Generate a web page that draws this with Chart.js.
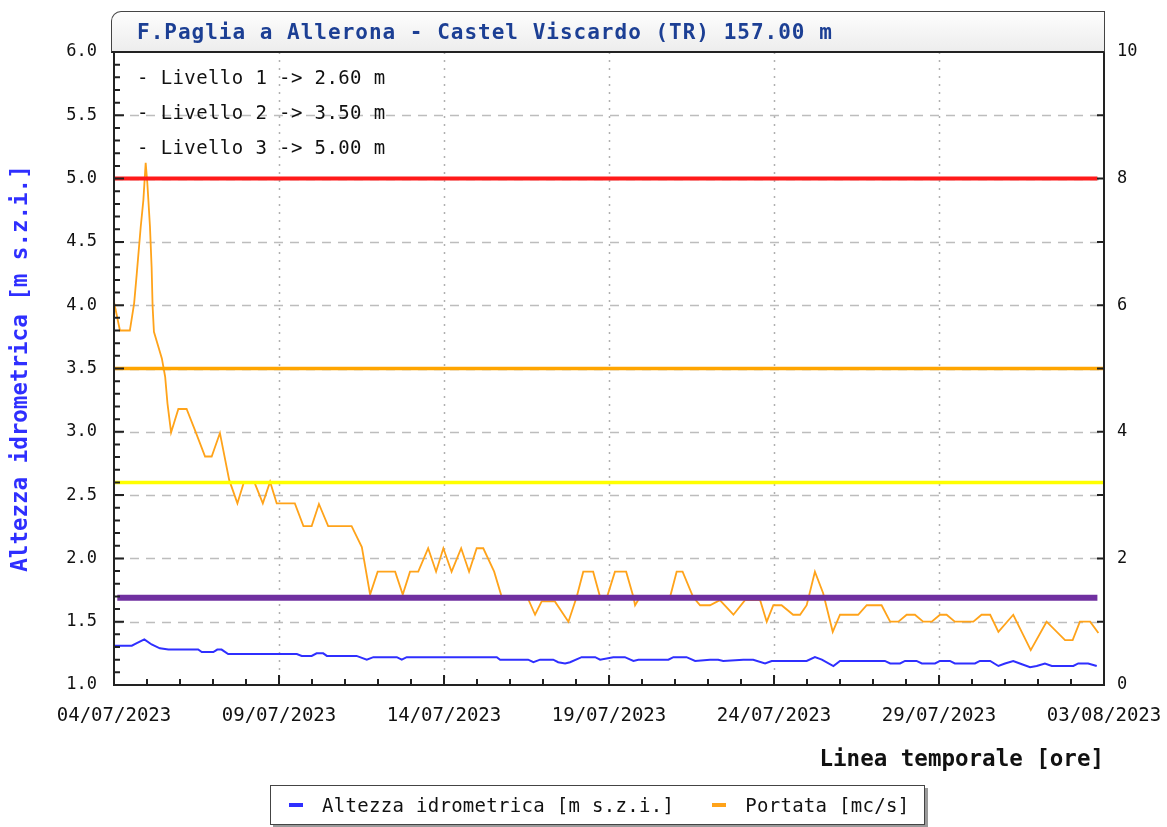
<!DOCTYPE html>
<html>
<head>
<meta charset="utf-8">
<script src="https://cdn.jsdelivr.net/npm/chart.js"></script>
<style>
  body { margin: 0; background: #fff; }
  #wrap { position: relative; width: 1167px; height: 827px; }
  #chart { position: absolute; left: 0; top: 0; }
  #title {
    position: absolute; left: 111px; top: 11px; width: 994px; height: 42px;
    box-sizing: border-box; border: 1px solid #444; border-bottom: 2px solid #222;
    border-top-left-radius: 10px;
    background: linear-gradient(#fdfdfd, #ededed);
    font: bold 21px "DejaVu Sans Mono", monospace; color: #1c3f94;
    letter-spacing: 1px;
    padding-left: 25px; line-height: 40px; white-space: pre;
  }
  #levels {
    position: absolute; left: 137px; top: 60px;
    font: 19px "DejaVu Sans Mono", monospace; color: #111; line-height: 35px;
    letter-spacing: 0.4px; white-space: pre;
  }
  #legend {
    position: absolute; left: 270px; top: 785px; width: 655px; height: 40px;
    box-sizing: border-box; border: 1px solid #444; background: #fff;
    box-shadow: 3px 3px 0 #9a9a9a;
    font: 19px "DejaVu Sans Mono", monospace; color: #111;
    letter-spacing: 0.3px;
    display: flex; align-items: center; white-space: pre;
  }
  .key { display: inline-block; width: 14px; height: 4px; margin: 0 19px 0 0; }
</style>
</head>
<body>
<div id="wrap">
  <canvas id="chart" width="1167" height="827"></canvas>
  <div id="title">F.Paglia a Allerona - Castel Viscardo (TR) 157.00 m</div>
  <div id="levels"></div>
  <div id="legend"></div>
</div>

<script>
  // x values are days since 04/07/2023 00:00
  const xTickLabels = ["04/07/2023", "09/07/2023", "14/07/2023", "19/07/2023", "24/07/2023", "29/07/2023", "03/08/2023"];

  // Altezza idrometrica [m s.z.i.] (left axis)
  const blueDays = [0, 0.54, 0.69, 0.92, 1.14, 1.39, 1.65, 2.55, 2.66, 3.01,
    3.13, 3.26, 3.46, 5.54, 5.69, 5.99, 6.14, 6.34, 6.45, 7.35,
    7.66, 7.86, 8.57, 8.72, 8.87, 11.60, 11.70, 12.55, 12.71, 12.91,
    13.31, 13.46, 13.67, 13.82, 14.17, 14.58, 14.73, 15.13, 15.48, 15.74,
    15.89, 16.80, 16.95, 17.35, 17.61, 18.06, 18.31, 18.46, 19.07, 19.37,
    19.73, 19.93, 20.99, 21.24, 21.45, 21.80, 22.00, 23.36, 23.52, 23.82,
    23.97, 24.32, 24.48, 24.88, 25.03, 25.33, 25.48, 26.09, 26.24, 26.55,
    26.80, 27.00, 27.25, 27.45, 27.76, 27.96, 28.21, 28.42, 29.07, 29.22,
    29.52, 29.78];
  const blueLevel = [1.31, 1.31, 1.33, 1.36, 1.32, 1.29, 1.28, 1.28, 1.26, 1.26,
    1.28, 1.28, 1.245, 1.245, 1.23, 1.23, 1.25, 1.25, 1.23, 1.23,
    1.20, 1.22, 1.22, 1.20, 1.22, 1.22, 1.20, 1.20, 1.18, 1.20,
    1.20, 1.18, 1.17, 1.18, 1.22, 1.22, 1.20, 1.22, 1.22, 1.19,
    1.20, 1.20, 1.22, 1.22, 1.19, 1.20, 1.20, 1.19, 1.20, 1.20,
    1.17, 1.19, 1.19, 1.22, 1.20, 1.15, 1.19, 1.19, 1.17, 1.17,
    1.19, 1.19, 1.17, 1.17, 1.19, 1.19, 1.17, 1.17, 1.19, 1.19,
    1.15, 1.17, 1.19, 1.17, 1.14, 1.15, 1.17, 1.15, 1.15, 1.17,
    1.17, 1.15];

  // Portata [mc/s] (right axis)
  const orangeDays = [0, 0.18, 0.48, 0.61, 0.69, 0.81, 0.89, 0.96, 1.01, 1.09,
    1.14, 1.17, 1.21, 1.45, 1.55, 1.62, 1.73, 1.95, 2.20, 2.45,
    2.76, 2.96, 3.21, 3.49, 3.74, 3.94, 4.25, 4.51, 4.73, 4.93,
    5.48, 5.74, 5.99, 6.21, 6.49, 7.20, 7.51, 7.76, 7.99, 8.52,
    8.75, 8.97, 9.22, 9.52, 9.76, 9.98, 10.23, 10.52, 10.76, 10.99,
    11.19, 11.52, 11.75, 12.30, 12.55, 12.76, 12.96, 13.36, 13.77, 14.02,
    14.22, 14.52, 14.73, 14.94, 15.18, 15.52, 15.74, 15.79, 15.94, 16.85,
    17.05, 17.23, 17.55, 17.76, 18.06, 18.36, 18.77, 19.12, 19.58, 19.78,
    19.98, 20.23, 20.58, 20.79, 20.99, 21.24, 21.49, 21.78, 22.00, 22.55,
    22.81, 23.26, 23.52, 23.77, 24.02, 24.27, 24.52, 24.78, 25.03, 25.23,
    25.48, 26.04, 26.29, 26.55, 26.80, 27.25, 27.78, 28.26, 28.82, 29.05,
    29.27, 29.58, 29.83];
  const orangeFlow = [6.05, 5.6, 5.6, 6.03, 6.5, 7.24, 7.66, 8.25, 7.93, 7.24,
    6.6, 5.98, 5.58, 5.16, 4.87, 4.45, 3.99, 4.36, 4.36, 4.03,
    3.61, 3.61, 3.98, 3.24, 2.87, 3.21, 3.21, 2.87, 3.21, 2.87,
    2.87, 2.51, 2.51, 2.86, 2.51, 2.51, 2.18, 1.43, 1.79, 1.79,
    1.43, 1.79, 1.79, 2.16, 1.79, 2.16, 1.79, 2.16, 1.79, 2.16,
    2.16, 1.79, 1.39, 1.39, 1.36, 1.11, 1.32, 1.32, 1.00, 1.39,
    1.79, 1.79, 1.39, 1.39, 1.79, 1.79, 1.39, 1.26, 1.39, 1.39,
    1.79, 1.79, 1.39, 1.26, 1.26, 1.34, 1.11, 1.34, 1.34, 1.00,
    1.26, 1.26, 1.11, 1.11, 1.26, 1.79, 1.45, 0.84, 1.11, 1.11,
    1.26, 1.26, 1.00, 1.00, 1.11, 1.11, 1.00, 1.00, 1.11, 1.11,
    1.00, 1.00, 1.11, 1.11, 0.84, 1.11, 0.55, 1.00, 0.71, 0.71,
    1.00, 1.00, 0.82];

  // alarm levels (left axis) + the purple reference line
  const levelNames = ["Livello 1", "Livello 2", "Livello 3"];
  const levelValues = [2.60, 3.50, 5.00];
  const levelColors = ["#ffff00", "#ffa500", "#ff1a1a"];
  const levelWidths = [3.5, 3.5, 4];
  const levelEnds = [30, 30, 29.8];
  const refValue = 1.69;

  document.getElementById("levels").textContent = levelNames
    .map((n, i) => "- " + n + " -> " + levelValues[i].toFixed(2) + " m").join("\n");

  const seriesNames = ["Altezza idrometrica [m s.z.i.]", "Portata [mc/s]"];
  const seriesColors = ["#2f2fff", "#ffa31a"];
  document.getElementById("legend").innerHTML = seriesNames
    .map((n, i) => `<span style="margin-left:${i ? 38 : 18}px" class="key" ` +
      `data-c="${i}"></span><span>${n}</span>`).join("");
  document.querySelectorAll(".key").forEach((k) => {
    k.style.background = seriesColors[+k.dataset.c];
  });

  const pts = (xs, ys) => xs.map((x, i) => ({ x: x, y: ys[i] }));

  const datasets = [
    {
      label: seriesNames[0], data: pts(blueDays, blueLevel), yAxisID: "y",
      borderColor: seriesColors[0], borderWidth: 2, pointRadius: 0, order: 1,
    },
    {
      label: seriesNames[1], data: pts(orangeDays, orangeFlow), yAxisID: "y2",
      borderColor: seriesColors[1], borderWidth: 1.8, pointRadius: 0, order: 1,
    },
  ];
  levelValues.forEach((v, i) => {
    datasets.push({
      label: levelNames[i], data: [{ x: 0, y: v }, { x: levelEnds[i], y: v }], yAxisID: "y",
      borderColor: levelColors[i], borderWidth: levelWidths[i], pointRadius: 0, order: 0,
    });
  });
  datasets.push({
    label: "ref", data: [{ x: 0.1, y: refValue }, { x: 29.8, y: refValue }], yAxisID: "y",
    borderColor: "#7030a0", borderWidth: 6, pointRadius: 0, order: 0,
  });

  // dashed/dotted grid and inward tick marks, drawn from the chart scales
  const frame = {
    id: "frame",
    beforeDatasetsDraw(chart) {
      const { ctx, chartArea: a, scales } = chart;
      const x = scales.x, y = scales.y;
      ctx.save();
      ctx.strokeStyle = "#bdbdbd";
      ctx.lineWidth = 1.5;
      ctx.setLineDash([9, 7]);
      for (let i = 1; i < 10; i++) {
        const py = Math.round(y.getPixelForValue(1 + i * 0.5)) + 0.5;
        ctx.beginPath(); ctx.moveTo(a.left, py); ctx.lineTo(a.right, py); ctx.stroke();
      }
      ctx.strokeStyle = "#b0b0b0";
      ctx.setLineDash([2, 6]);
      for (let d = 5; d < 30; d += 5) {
        const px = Math.round(x.getPixelForValue(d)) + 0.5;
        ctx.beginPath(); ctx.moveTo(px, a.top); ctx.lineTo(px, a.bottom); ctx.stroke();
      }
      ctx.restore();
    },
    afterDatasetsDraw(chart) {
      const { ctx, chartArea: a, scales } = chart;
      const x = scales.x, y = scales.y, y2 = scales.y2;
      ctx.save();
      ctx.strokeStyle = "#222";
      ctx.lineWidth = 2;
      ctx.beginPath();
      ctx.moveTo(a.left, a.top); ctx.lineTo(a.left, a.bottom);
      ctx.lineTo(a.right, a.bottom); ctx.lineTo(a.right, a.top);
      ctx.stroke();
      ctx.beginPath();
      for (let i = 0; i <= 50; i++) {
        const py = y.getPixelForValue(1 + i / 10);
        ctx.moveTo(a.left, py); ctx.lineTo(a.left + (i % 5 === 0 ? 10 : 6), py);
      }
      for (let d = 0; d <= 30; d++) {
        const px = x.getPixelForValue(d);
        ctx.moveTo(px, a.bottom); ctx.lineTo(px, a.bottom - (d % 5 === 0 ? 10 : 6));
      }
      for (let v = 0; v <= 10; v++) {
        const py = y2.getPixelForValue(v);
        ctx.moveTo(a.right, py); ctx.lineTo(a.right - 7, py);
      }
      ctx.stroke();
      ctx.restore();
    },
  };

  const mono = "'DejaVu Sans Mono', monospace";

  new Chart(document.getElementById("chart"), {
    type: "line",
    data: { datasets: datasets },
    plugins: [frame],
    options: {
      responsive: false,
      animation: false,
      layout: { padding: { top: 52, left: 0, right: 0, bottom: 0 } },
      plugins: { legend: { display: false }, tooltip: { enabled: false } },
      scales: {
        x: {
          type: "linear", min: 0, max: 30,
          afterFit: (s) => { s.height = 142; },
          grid: { display: false, drawTicks: true, tickLength: 17 },
          border: { display: false },
          ticks: {
            stepSize: 5, autoSkip: false, maxRotation: 0, padding: 3,
            color: "#111", font: { family: mono, size: 19 },
            callback: (v, i) => xTickLabels[i],
          },
          title: {
            display: true, text: "Linea temporale [ore]", align: "end",
            color: "#111", font: { family: mono, size: 22.5, weight: "bold" },
            padding: { top: 0, bottom: 53 },
          },
        },
        y: {
          position: "left", min: 1, max: 6,
          afterFit: (s) => { s.width = 114; },
          grid: { display: false, drawTicks: false },
          border: { display: false },
          ticks: {
            stepSize: 0.5, padding: 17, color: "#111",
            font: { family: mono, size: 17 },
            callback: (v) => v.toFixed(1),
          },
          title: {
            display: true, text: seriesNames[0], color: "#2f2fff",
            font: { family: mono, size: 22.5, weight: "bold" },
            padding: { top: 8, bottom: 0 },
          },
        },
        y2: {
          position: "right", min: 0, max: 10,
          afterFit: (s) => { s.width = 63; },
          grid: { display: false, drawTicks: false },
          border: { display: false },
          ticks: {
            stepSize: 2, padding: 13, color: "#111",
            font: { family: mono, size: 17 },
          },
        },
      },
    },
  });
</script>
</body>
</html>
